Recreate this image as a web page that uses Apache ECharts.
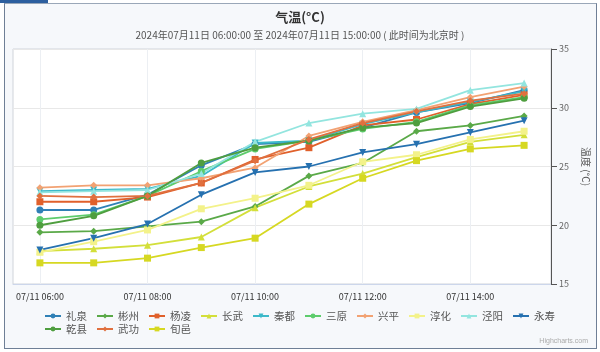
<!DOCTYPE html>
<html>
<head>
<meta charset="utf-8">
<script src="https://cdn.jsdelivr.net/npm/echarts@6/dist/echarts.min.js"></script>
<style>
  html, body { margin: 0; padding: 0; background: #fff; }
  #frame { position: absolute; left: 4px; top: 3px; width: 591px; height: 344px;
           border: 1px solid #6f7f96; border-top-color: #9aa7b8; background: #f6f8fb; }
  #tab { position: absolute; left: 0; top: 0; width: 48px; height: 3px; background: #2d5f9f; }
  #main { position: absolute; left: 0; top: 0; width: 600px; height: 352px; }
</style>
</head>
<body>
<div id="frame"></div>
<div id="tab"></div>
<div id="main"></div>
<script>
// hourly readings, 2024-07-11 06:00 .. 15:00
var hours = ['07/11 06:00', '07/11 07:00', '07/11 08:00', '07/11 09:00', '07/11 10:00',
             '07/11 11:00', '07/11 12:00', '07/11 13:00', '07/11 14:00', '07/11 15:00'];

var liquan   = [21.3, 21.3, 22.6, 25.1, 26.9, 27.1, 28.3, 29.6, 30.4, 31.5];
var binzhou  = [19.4, 19.5, 19.9, 20.3, 21.6, 24.2, 25.3, 28.0, 28.5, 29.3];
var yangling = [22.0, 22.0, 22.4, 23.6, 25.6, 26.6, 28.5, 29.0, 30.3, 31.1];
var changwu  = [17.8, 18.0, 18.3, 19.0, 21.5, 23.3, 24.4, 25.8, 27.1, 27.7];
var qindu    = [22.9, 23.0, 23.1, 24.2, 27.0, 27.2, 28.6, 29.6, 30.5, 31.4];
var sanyuan  = [20.5, 20.9, 22.5, 24.6, 26.5, 27.2, 28.2, 28.8, 30.2, 30.9];
var xingping = [23.2, 23.4, 23.4, 24.0, 24.9, 27.6, 28.8, 29.8, 30.9, 31.8];
var chunhua  = [17.7, 18.6, 19.6, 21.4, 22.3, 23.4, 25.4, 26.0, 27.3, 28.0];
var jingyang = [22.8, 22.9, 23.0, 24.4, 27.1, 28.7, 29.5, 29.9, 31.5, 32.1];
var yongshou = [17.9, 18.9, 20.1, 22.6, 24.5, 25.0, 26.2, 26.9, 27.9, 28.9];
var qianxian = [20.0, 20.8, 22.5, 25.3, 26.6, 27.2, 28.3, 28.7, 30.1, 30.8];
var wugong   = [22.5, 22.4, 22.5, 23.6, 25.5, 27.3, 28.7, 29.7, 30.6, 31.2];
var xunyi    = [16.8, 16.8, 17.2, 18.1, 18.9, 21.8, 24.0, 25.5, 26.5, 26.8];

var names  = ['礼泉', '彬州', '杨凌', '长武', '秦都', '三原', '兴平', '淳化', '泾阳', '永寿', '乾县', '武功', '旬邑'];
var values = [liquan, binzhou, yangling, changwu, qindu, sanyuan, xingping, chunhua, jingyang, yongshou, qianxian, wugong, xunyi];
var colors = ['#2f80b6', '#5aa948', '#e0602b', '#d3df3a', '#3cb9c9', '#5dcc6c', '#f2a273',
              '#f3f28a', '#93e5df', '#2671b0', '#4f9e3f', '#e0703f', '#d6d822'];

var down = 'path://M0,0 L10,0 L5,10 Z';
var symbols = ['circle', 'diamond', 'rect', 'triangle', down];

var myChart = echarts.init(document.getElementById('main'));

var series = names.map(function (n, i) {
  return {
    name: n,
    type: 'line',
    data: values[i],
    symbol: symbols[i % 5],
    symbolSize: 7,
    lineStyle: { width: 1.8 },
    itemStyle: { color: colors[i] }
  };
});

option = {
  color: colors,
  textStyle: { fontFamily: 'Noto Sans CJK SC' },
  animation: false,
  title: {
    text: '气温(°C)',
    subtext: '2024年07月11日 06:00:00 至 2024年07月11日 15:00:00 ( 此时间为北京时 )',
    left: 'center',
    top: 6,
    itemGap: 6,
    textStyle: { fontSize: 13, fontWeight: 'bold', color: '#333' },
    subtextStyle: { fontSize: 10, color: '#555' }
  },
  legend: {
    left: 39,
    top: 310,
    width: 548,
    itemWidth: 16,
    itemHeight: 6,
    itemGap: 1,
    padding: [0, 5],
    textStyle: { fontSize: 10.5, color: '#555', width: 29, lineHeight: 12 }
  },
  grid: {
    left: 13, right: 49, top: 49, bottom: 68,
    show: true, backgroundColor: '#fff', borderColor: '#d0d4da'
  },
  xAxis: {
    type: 'category',
    data: hours,
    boundaryGap: true,
    axisLine: { lineStyle: { color: '#ccd6eb' } },
    axisTick: { show: false },
    axisLabel: { interval: 1, fontSize: 9, color: '#333', margin: 8 },
    splitLine: { show: true, interval: 1, alignWithLabel: true, lineStyle: { color: '#eceff3' } }
  },
  yAxis: {
    type: 'value',
    position: 'right',
    min: 15, max: 35, interval: 5,
    name: '温度 (°C)',
    nameLocation: 'middle',
    nameGap: 30,
    nameRotate: -90,
    nameTextStyle: { fontSize: 10, color: '#555' },
    axisLine: { show: true, lineStyle: { color: '#555' } },
    axisTick: { show: true, length: 6, lineStyle: { color: '#555' } },
    axisLabel: { fontSize: 9, color: '#666', margin: 8 },
    splitLine: { lineStyle: { color: '#e8e8e8' } }
  },
  graphic: [{
    type: 'text', right: 12, bottom: 7,
    style: { text: 'Highcharts.com', fontSize: 7, fill: '#aaa' }
  }],
  series: series
};

myChart.setOption(option);
</script>
</body>
</html>
